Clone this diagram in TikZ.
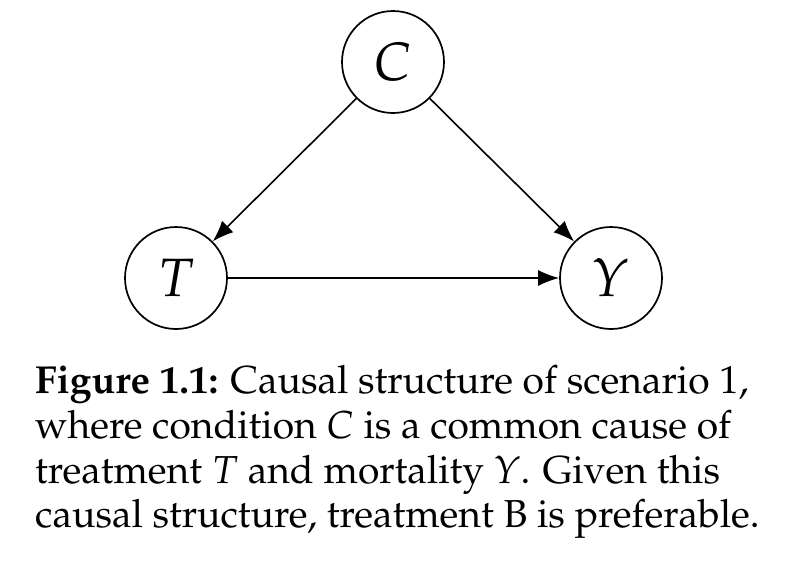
\documentclass[tikz,border=0pt]{standalone}
\usepackage[T1]{fontenc}
\usepackage{mathpazo}
\usetikzlibrary{arrows.meta}
\tikzset{
  var/.style={circle, draw, line width=1.7pt, minimum size=102pt, inner sep=0pt, font=\fontsize{54}{54}\selectfont},
  edge/.style={line width=1.6pt, -{Latex[length=21pt,width=16pt]}},
  captext/.style={anchor=base west, inner sep=0pt, font=\fontsize{39}{44.7}\selectfont}
}
\begin{document}
\begin{tikzpicture}[x=1pt,y=-1pt]
\useasboundingbox (0,0) rectangle (792,568);
\node[var] (C) at (393,62) {$C$};
\node[var] (T) at (176,278) {$T$};
\node[var] (Y) at (611,278) {$Y$};
\draw[edge] (C) -- (T);
\draw[edge] (C) -- (Y);
\draw[edge] (T) -- (Y);
\node[captext] (cap1) at (35,393) {\textbf{Figure 1.1:} Causal structure of scenario 1,};
\node[captext] (cap2) at (35,438) {where condition $C$ is a common cause of};
\node[captext] (cap3) at (35,483) {treatment $T$ and mortality $Y$. Given this};
\node[captext] (cap4) at (35,527) {causal structure, treatment B is preferable.};
\end{tikzpicture}
\end{document}
